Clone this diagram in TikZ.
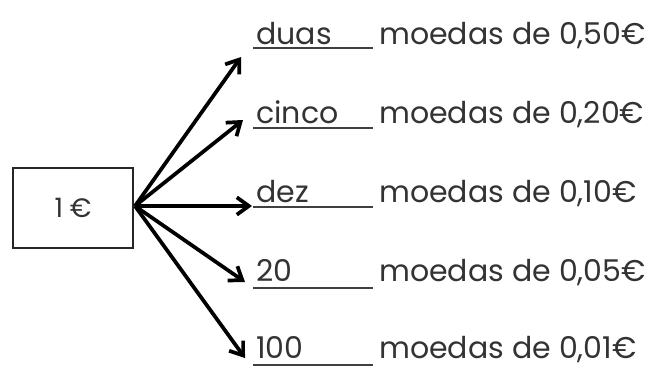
\documentclass[tikz,border=0pt]{standalone}
\usepackage{fontspec}
\setmainfont{Poppins}
\usetikzlibrary{arrows.meta}

\tikzset{
  coinbox/.style={draw=black!85,line width=1.1pt,minimum width=90pt,minimum height=60pt,inner sep=0pt,font=\fontsize{20pt}{22pt}\selectfont,text=black!80},
  answer/.style={anchor=base west,inner sep=0pt,font=\fontsize{22.5pt}{24pt}\selectfont,text=black!80},
  coins/.style={anchor=base west,inner sep=0pt,font=\fontsize{22.5pt}{24pt}\selectfont,text=black!80},
  blank/.style={draw=black!75,line width=1.2pt},
  split/.style={line width=2.8pt,-{Straight Barb[length=9pt,width=13pt,line width=2.8pt]}}
}

\begin{document}
\begin{tikzpicture}[x=0.75pt,y=0.75pt,yscale=-1,xscale=1]
\useasboundingbox (0,0) rectangle (656,367);

%Shape: Rectangle
\node[coinbox] (one) at (73,208) {1\hspace{5pt}€};
\coordinate (hub) at (135,206);

% Text Node
\node[answer] (ans1) at (256,45) {duas};
\node[coins] (val1) at (379,45) {moedas de 0,50€};
\node[answer] (ans2) at (256,124) {cinco};
\node[coins] (val2) at (379,124) {moedas de 0,20€};
\node[answer] (ans3) at (256,202) {dez};
\node[coins] (val3) at (379,202) {moedas de 0,10€};
\node[answer] (ans4) at (256,281) {20};
\node[coins] (val4) at (379,281) {moedas de 0,05€};
\node[answer] (ans5) at (256,358) {100};
\node[coins] (val5) at (379,358) {moedas de 0,01€};

%Straight Lines
\draw[blank] (253,48) -- (373,48);
\draw[blank] (253,128) -- (373,128);
\draw[blank] (253,207) -- (373,207);
\draw[blank] (253,288) -- (373,288);
\draw[blank] (253,365) -- (373,365);

%Straight Lines
\coordinate (tip1) at (241,57);
\coordinate (tip2) at (243,120);
\coordinate (tip3) at (252,206);
\coordinate (tip4) at (245,282);
\coordinate (tip5) at (245,358);
\foreach \i in {1,...,5}
  \draw[split] (hub) -- (tip\i);

\end{tikzpicture}
\end{document}
